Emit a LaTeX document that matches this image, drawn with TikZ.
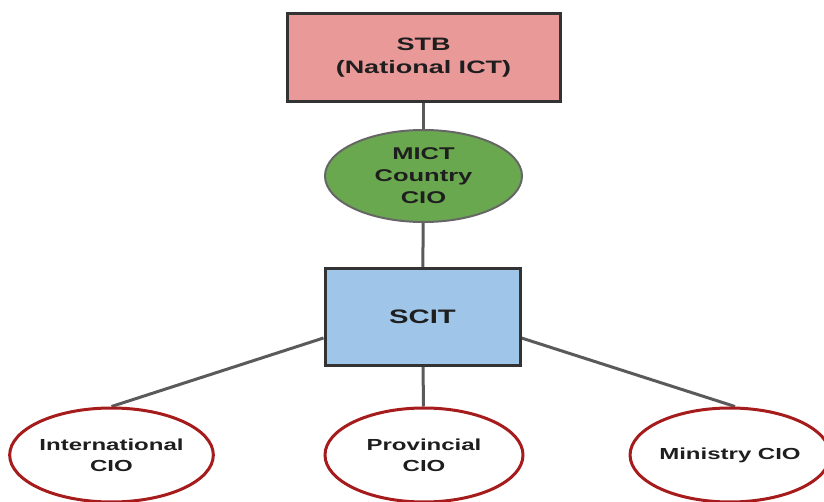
\documentclass[tikz,border=0pt]{standalone}
\usepackage{fontspec}
\newfontfamily\lblfont{Liberation Sans}[FakeStretch=1.5]
\usetikzlibrary{shapes.geometric,backgrounds}
\definecolor{stbfill}{HTML}{EA9999}
\definecolor{mictfill}{HTML}{6AA84F}
\definecolor{scitfill}{HTML}{9FC5E8}
\definecolor{cioedge}{HTML}{A61C1C}
\definecolor{boxedge}{HTML}{333333}
\definecolor{linkgray}{HTML}{5A5A5A}
\definecolor{txt}{HTML}{1E1E1E}
\tikzset{
  box/.style={draw=boxedge, line width=3pt, inner sep=0pt, text=txt,
    align=center, font=\lblfont\bfseries},
  hub/.style={ellipse, draw=gray!80!black, line width=2pt, fill=mictfill,
    inner sep=0pt, text=txt, align=center, font=\lblfont\bfseries\fontsize{17}{22}\selectfont},
  cio/.style={ellipse, draw=cioedge, line width=3pt, fill=white,
    inner sep=0pt, text=txt, align=center, font=\lblfont\bfseries\fontsize{16}{21}\selectfont,
    minimum height=94pt},
  link/.style={draw=linkgray, line width=3pt}
}
\begin{document}
\begin{tikzpicture}[x=1pt,y=1pt]
\useasboundingbox (0,0) rectangle (824,501);
\node[box, fill=stbfill, minimum width=273pt, minimum height=88pt,
  font=\lblfont\bfseries\fontsize{18}{23}\selectfont]
  (stb) at (423.5,443) {STB\\(National ICT)};
\node[hub, minimum width=197pt, minimum height=92pt]
  (mict) at (423.5,325) {MICT\\Country\\CIO};
\node[box, fill=scitfill, minimum width=195pt, minimum height=96pt,
  font=\lblfont\bfseries\fontsize{19.5}{24}\selectfont]
  (scit) at (422.5,184) {SCIT};
\node[cio, minimum width=197pt] (intl) at (111.5,46) {International\\CIO};
\node[cio, minimum width=198pt] (prov) at (424,46) {Provincial\\CIO};
\node[cio, minimum width=186pt] (mini) at (730,46) {Ministry CIO};
\coordinate (scitL) at ([yshift=-21pt]scit.west);
\coordinate (scitR) at ([yshift=-21pt]scit.east);
\begin{scope}[on background layer]
  \draw[link] (stb) -- (mict);
  \draw[link] (mict) -- (scit);
  \draw[link] (scit) -- (prov);
  \draw[link] (scitL) -- (intl.north);
  \draw[link] (scitR) -- ([xshift=5pt]mini.north);
\end{scope}
\end{tikzpicture}
\end{document}
